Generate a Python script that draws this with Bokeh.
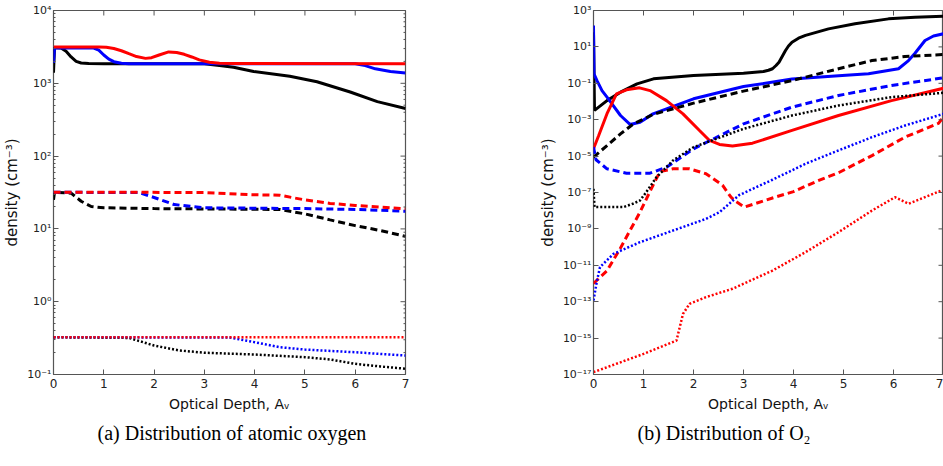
import math

from bokeh.plotting import figure
from bokeh.layouts import row
from bokeh.models import FixedTicker, Range1d
from bokeh.embed import file_html
from bokeh.resources import INLINE

# ---------------- (a) atomic oxygen ----------------
o_av_solid_black = [0, 0.02, 0.15, 0.25, 0.35, 0.45, 0.55, 0.7, 1.0, 2.0, 3.0, 3.3, 3.58, 3.98, 4.7, 5.24, 5.9, 6.44, 7.0]
o_solid_black = [1400, 3100, 3050, 2750, 2300, 2000, 1900, 1865, 1860, 1860, 1850, 1750, 1660, 1450, 1250, 1050, 760, 560, 450]

o_av_solid_blue = [0, 0.02, 0.8, 0.9, 1.0, 1.1, 1.2, 1.35, 1.5, 6.0, 6.2, 6.4, 6.7, 7.0]
o_solid_blue = [1900, 3080, 3050, 2850, 2450, 2150, 1980, 1890, 1860, 1850, 1750, 1580, 1450, 1380]

o_av_solid_red = [0, 0.9, 1.05, 1.2, 1.35, 1.5, 1.65, 1.83, 1.95, 2.1, 2.29, 2.45, 2.6, 2.75, 2.9, 3.1, 3.3, 3.6, 7.0]
o_solid_red = [3150, 3150, 3120, 3000, 2800, 2550, 2330, 2200, 2250, 2450, 2700, 2650, 2500, 2300, 2100, 1950, 1890, 1865, 1860]

o_av_dashed_black = [0, 0.02, 0.35, 0.55, 0.75, 1.0, 2.0, 4.5, 5.0, 5.5, 6.0, 6.5, 7.0]
o_dashed_black = [25, 31.9, 31, 24, 20.3, 19.5, 19, 18.5, 16.1, 13.3, 11.1, 9.5, 7.9]

o_av_dashed_blue = [0, 1.7, 2.0, 2.4, 3.0, 5.0, 6.0, 7.0]
o_dashed_blue = [31.9, 31.5, 27, 21.6, 19.5, 19, 18.5, 17.5]

o_av_dashed_red = [0, 1.5, 3.0, 3.9, 4.5, 5.0, 5.5, 6.0, 7.0]
o_dashed_red = [31.9, 31.9, 31.5, 29.5, 29, 25, 22.4, 21, 18.9]

o_av_dotted_black = [0, 1.5, 2.0, 2.5, 3.0, 4.0, 5.0, 5.5, 6.0, 6.5, 7.0]
o_dotted_black = [0.325, 0.318, 0.25, 0.214, 0.199, 0.188, 0.173, 0.161, 0.14, 0.129, 0.12]

o_av_dotted_blue = [0, 3.5, 4.0, 4.5, 5.0, 6.0, 7.0]
o_dotted_blue = [0.325, 0.322, 0.278, 0.237, 0.22, 0.202, 0.182]

o_av_dotted_red = [0, 3.5, 7.0]
o_dotted_red = [0.325, 0.325, 0.325]

# ---------------- (b) molecular oxygen ----------------
o2_av_solid_black = [0, 0.02, 0.27, 0.54, 0.87, 1.2, 2.0, 3.0, 3.4, 3.5, 3.58, 3.65, 3.71, 3.84, 3.9, 3.97, 4.1, 4.24, 4.7, 5.23, 5.9, 6.43, 7.0]
o2_solid_black = [64.6, 3.24e-3, 1.12e-2, 3.24e-2, 9.33e-2, 0.176, 0.269, 0.359, 0.447, 0.52, 0.631, 0.95, 1.45, 6.31, 11.2, 18.2, 30, 42.7, 97.7, 186, 347, 427, 490]

o2_av_solid_blue = [0, 0.01, 0.07, 0.17, 0.27, 0.54, 0.73, 0.93, 1.19, 2.0, 3.0, 3.97, 4.9, 5.5, 6.1, 6.3, 6.43, 6.63, 6.8, 7.0]
o2_solid_blue = [151, 0.331, 0.141, 0.0398, 0.0174, 1.70e-3, 5.5e-4, 7.24e-4, 2.09e-3, 1.41e-2, 6.61e-2, 0.17, 0.257, 0.331, 0.631, 1.78, 4.47, 22.4, 39.8, 52.5]

o2_av_solid_red = [0, 0.1, 0.27, 0.46, 0.66, 0.92, 1.13, 1.46, 1.79, 2.12, 2.32, 2.52, 2.78, 3.18, 3.97, 4.9, 5.96, 7.0]
o2_solid_red = [2.51e-5, 1.26e-4, 2.14e-3, 2.63e-2, 4.37e-2, 5.62e-2, 3.98e-2, 1.12e-2, 2.09e-3, 2.57e-4, 7.24e-5, 4.37e-5, 3.55e-5, 5.13e-5, 2.57e-4, 1.70e-3, 1.12e-2, 5.37e-2]

o2_av_dashed_black = [0, 0.27, 0.54, 0.8, 1.19, 2.0, 3.0, 3.97, 4.9, 5.57, 6.23, 7.0]
o2_dashed_black = [8.71e-6, 3.80e-5, 1.66e-4, 5.89e-4, 1.95e-3, 8.13e-3, 3.72e-2, 0.141, 0.631, 1.78, 2.95, 3.80]

o2_av_dashed_blue = [0, 0.05, 0.27, 0.66, 1.13, 1.46, 2.0, 3.0, 3.97, 4.9, 5.96, 7.0]
o2_dashed_blue = [3.16e-5, 6.31e-6, 2.0e-6, 1.15e-6, 1.15e-6, 2.45e-6, 2.51e-5, 5.89e-4, 4.90e-3, 2.14e-2, 7.59e-2, 0.2]

o2_av_dashed_red = [0, 0.27, 0.53, 0.73, 0.93, 1.19, 1.33, 1.59, 1.92, 2.25, 2.58, 2.75, 2.85, 3.02, 3.58, 4.0, 4.45, 4.91, 5.57, 6.23, 6.9, 7.0]
o2_dashed_red = [1e-12, 5.01e-12, 7.94e-11, 8.13e-10, 8.32e-9, 2.51e-7, 1.41e-6, 2.0e-6, 2.0e-6, 1.07e-6, 2.51e-7, 5.5e-8, 3.16e-8, 1.58e-8, 5.01e-8, 1.12e-7, 3.98e-7, 1.26e-6, 1.07e-5, 1.10e-4, 6.31e-4, 1.41e-3]

o2_av_dotted_black = [0, 0.02, 0.6, 0.8, 0.93, 1.05, 1.26, 1.59, 2.0, 3.0, 3.97, 4.9, 5.96, 7.0]
o2_dotted_black = [1.58e-7, 1.58e-8, 1.58e-8, 2.5e-8, 3.63e-8, 1e-7, 6.92e-7, 5.75e-6, 3.09e-5, 3.16e-4, 1.70e-3, 6.03e-3, 1.74e-2, 3.02e-2]

o2_av_dotted_blue = [0, 0.07, 0.13, 0.4, 0.93, 1.59, 2.25, 2.52, 2.91, 3.3, 3.58, 4.24, 4.9, 5.57, 6.23, 7.0]
o2_dotted_blue = [1.17e-13, 1.45e-12, 7.94e-12, 4.27e-11, 1.86e-10, 8.13e-10, 3.55e-9, 8.32e-9, 7.08e-8, 2.24e-7, 5.01e-7, 3.80e-6, 2.04e-5, 1.10e-4, 4.79e-4, 2.09e-3]

o2_av_dotted_red = [0, 1.0, 1.66, 1.79, 1.92, 2.25, 2.78, 3.58, 4.24, 4.9, 5.57, 6.03, 6.3, 6.96]
o2_dotted_red = [1.35e-17, 1.35e-16, 7.41e-16, 2.14e-14, 7.59e-14, 1.78e-13, 5.13e-13, 5.13e-12, 5.25e-11, 6.61e-10, 1.02e-8, 5.5e-8, 2.4e-8, 1.29e-7]

# ---------------- axes ----------------
av_ticks = [0, 1, 2, 3, 4, 5, 6, 7]

o_y_ticks = [1e-1, 1e0, 1e1, 1e2, 1e3, 1e4]
o_y_labels = ["10⁻¹", "10⁰", "10¹", "10²", "10³", "10⁴"]
o_y_minor = [m * t for t in [1e-1, 1e0, 1e1, 1e2, 1e3] for m in range(2, 10)]

o2_y_ticks = [1e-17, 1e-15, 1e-13, 1e-11, 1e-9, 1e-7, 1e-5, 1e-3, 1e-1, 1e1, 1e3]
o2_y_labels = ["10⁻¹⁷", "10⁻¹⁵", "10⁻¹³", "10⁻¹¹", "10⁻⁹", "10⁻⁷", "10⁻⁵", "10⁻³", "10⁻¹", "10¹", "10³"]

COLORS = {"black": "#000000", "blue": "#0000ff", "red": "#ff0000"}
STYLES = {
    "solid": dict(line_width=3, line_dash="solid"),
    "dashed": dict(line_width=3, line_dash="7 4"),
    "dotted": dict(line_width=2.5, line_dash="2 2"),
}

o_series = [
    (o_av_solid_black, o_solid_black, "black", "solid"),
    (o_av_solid_blue, o_solid_blue, "blue", "solid"),
    (o_av_solid_red, o_solid_red, "red", "solid"),
    (o_av_dashed_black, o_dashed_black, "black", "dashed"),
    (o_av_dashed_blue, o_dashed_blue, "blue", "dashed"),
    (o_av_dashed_red, o_dashed_red, "red", "dashed"),
    (o_av_dotted_black, o_dotted_black, "black", "dotted"),
    (o_av_dotted_blue, o_dotted_blue, "blue", "dotted"),
    (o_av_dotted_red, o_dotted_red, "red", "dotted"),
]
o2_series = [
    (o2_av_solid_black, o2_solid_black, "black", "solid"),
    (o2_av_solid_blue, o2_solid_blue, "blue", "solid"),
    (o2_av_solid_red, o2_solid_red, "red", "solid"),
    (o2_av_dashed_black, o2_dashed_black, "black", "dashed"),
    (o2_av_dashed_blue, o2_dashed_blue, "blue", "dashed"),
    (o2_av_dashed_red, o2_dashed_red, "red", "dashed"),
    (o2_av_dotted_black, o2_dotted_black, "black", "dotted"),
    (o2_av_dotted_blue, o2_dotted_blue, "blue", "dotted"),
    (o2_av_dotted_red, o2_dotted_red, "red", "dotted"),
]

SPINE = "#555555"
TICK_FONT = "DejaVu Sans"
LABEL_FONT = "DejaVu Sans"
MAJOR_LEN = 5
MINOR_LEN = 2


def style_axis(ax, ticker, size, overrides=None):
    ax.ticker = ticker
    ax.axis_line_color = None
    ax.major_tick_in = MAJOR_LEN
    ax.major_tick_out = 0
    ax.minor_tick_in = MINOR_LEN
    ax.minor_tick_out = 0
    ax.major_tick_line_color = SPINE
    ax.minor_tick_line_color = SPINE
    ax.major_label_text_font = TICK_FONT
    ax.major_label_text_color = "#222222"
    ax.major_label_text_font_size = size
    ax.major_label_standoff = 2
    if overrides:
        ax.major_label_overrides = overrides


def mirror_ticks(p, x_end, y_hi, y_ticks, y_minor):
    # inward ticks along the top and right edges of the frame
    n = len(av_ticks)
    p.ray(x=av_ticks, y=[y_hi] * n, length=MAJOR_LEN, length_units="screen",
          angle=-math.pi / 2, line_color=SPINE, line_width=1)
    p.ray(x=[x_end] * len(y_ticks), y=y_ticks, length=MAJOR_LEN, length_units="screen",
          angle=math.pi, line_color=SPINE, line_width=1)
    if y_minor:
        p.ray(x=[x_end] * len(y_minor), y=y_minor, length=MINOR_LEN, length_units="screen",
              angle=math.pi, line_color=SPINE, line_width=1)


def make_panel(series, x_end, y_lo, y_hi, y_ticks, y_labels, y_minor, caption, width, border_right):
    p = figure(
        width=width, height=466,
        x_range=Range1d(0, x_end), y_range=Range1d(y_lo, y_hi),
        y_axis_type="log",
        title=caption, title_location="below",
        output_backend="svg", toolbar_location=None,
        min_border_left=53, min_border_right=border_right,
        min_border_top=10, min_border_bottom=92,
    )
    p.background_fill_color = "white"
    p.border_fill_color = "white"
    p.grid.visible = False
    p.outline_line_color = SPINE
    p.outline_line_width = 1.2

    style_axis(p.xaxis[0], FixedTicker(ticks=av_ticks, minor_ticks=[]), "12px")
    y_over = {t: lab for t, lab in zip(y_ticks, y_labels)}
    style_axis(p.yaxis[0], FixedTicker(ticks=y_ticks, minor_ticks=y_minor), "11px", y_over)
    p.xaxis[0].major_label_standoff = 4

    p.xaxis[0].axis_label = "Optical Depth, Aᵥ"
    p.xaxis[0].axis_label_text_font = LABEL_FONT
    p.xaxis[0].axis_label_text_font_size = "14px"
    p.xaxis[0].axis_label_text_font_style = "normal"
    p.xaxis[0].axis_label_text_color = "#111111"
    p.xaxis[0].axis_label_standoff = 5

    p.yaxis[0].axis_label = "density (cm⁻³)"
    p.yaxis[0].axis_label_text_font = LABEL_FONT
    p.yaxis[0].axis_label_text_font_size = "15px"
    p.yaxis[0].axis_label_text_font_style = "normal"
    p.yaxis[0].axis_label_text_color = "#111111"
    p.yaxis[0].axis_label_standoff = 3

    for av, dens, color, style in series:
        p.line(av, dens, line_color=COLORS[color], **STYLES[style])

    mirror_ticks(p, x_end, y_hi, y_ticks, y_minor)

    p.title.align = "left"
    p.title.offset = 44
    p.title.standoff = 10
    p.title.text_font = "Liberation Serif"
    p.title.text_font_size = "20px"
    p.title.text_font_style = "normal"
    p.title.text_color = "#000000"
    return p


p1 = make_panel(o_series, 7, 1e-1, 1e4, o_y_ticks, o_y_labels, o_y_minor,
                "(a) Distribution of atomic oxygen", 535, 130)
p2 = make_panel(o2_series, 7, 1e-17, 1e3, o2_y_ticks, o2_y_labels, [],
                "(b) Distribution of O₂", 408, 0)

layout = row(p1, p2)
open("out.html", "w").write(file_html(layout, INLINE))
